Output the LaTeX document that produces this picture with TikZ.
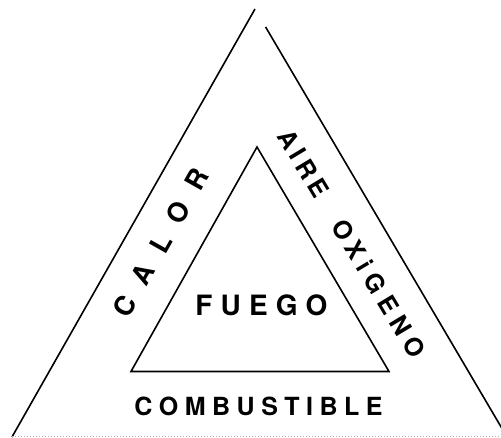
\documentclass[tikz,border=0pt]{standalone}
\usepackage{fontspec}
\setmainfont{TeX Gyre Heros}
\usetikzlibrary{calc}
\tikzset{
  lado/.style={line width=1.6pt, line join=miter},
  rotulo/.style={inner sep=0pt},
}
\begin{document}
\begin{tikzpicture}[x=1pt,y=1pt]
\useasboundingbox (0,0) rectangle (501,438);
\clip (0,0) rectangle (501,438);
% triangulo exterior
\coordinate (cima) at (255,429);
\coordinate (izq) at (12,1);
\coordinate (der) at (507,1);
\draw[lado] (izq) -- (cima);
\draw[lado] ($(cima)!0.042!(der)$) -- (der);
\draw[gray!60, dotted, line width=1pt] (izq) -- (der);
% triangulo interior
\coordinate (cimaint) at (257,291);
\coordinate (izqint) at (131,66.5);
\coordinate (derint) at (389,66.5);
\draw[lado] (cimaint) -- (derint) -- (izqint) -- cycle;
% rotulos
\node[rotulo, rotate=60.5, font=\fontsize{27}{27}\selectfont\bfseries\addfontfeature{LetterSpace=66}] (calor) at (161,195.5) {CALOR};
\node[rotulo, rotate=-59, font=\fontsize{25}{25}\selectfont\bfseries\addfontfeature{LetterSpace=20}] (aire) at (304,274.5) {AIRE};
\node[rotulo, rotate=-59, font=\fontsize{25}{25}\selectfont\bfseries\addfontfeature{LetterSpace=27}] (oxigeno) at (379,149.5) {OXiGENO};
\node[rotulo, font=\fontsize{28}{28}\selectfont\bfseries\addfontfeature{LetterSpace=29}] (fuego) at (261.5,133) {FUEGO};
\node[rotulo, font=\fontsize{25}{25}\selectfont\bfseries\addfontfeature{LetterSpace=26}] (combustible) at (258.5,32) {COMBUSTIBLE};
\end{tikzpicture}
\end{document}
